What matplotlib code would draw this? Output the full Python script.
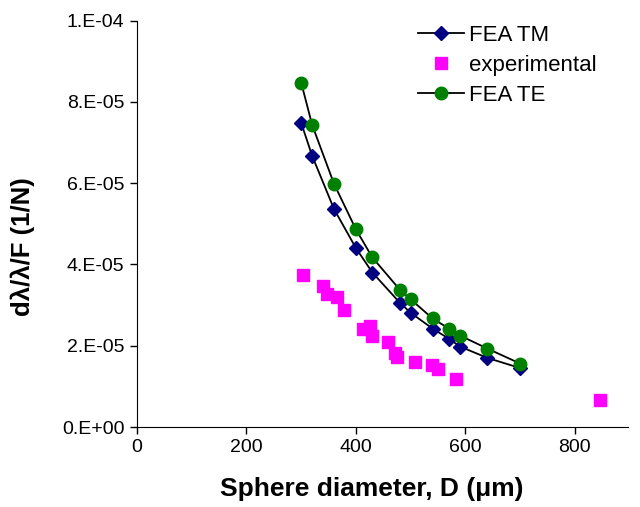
import matplotlib
matplotlib.use('Agg')
import matplotlib.pyplot as plt

plt.rcParams['font.family'] = ['Liberation Sans', 'DejaVu Sans']

# FEA TM (diamonds)
tm_d = [300, 320, 360, 400, 430, 480, 500, 540, 570, 590, 640, 700]
tm_y = [7.48e-5, 6.67e-5, 5.36e-5, 4.40e-5, 3.80e-5, 3.06e-5, 2.81e-5,
        2.42e-5, 2.17e-5, 1.98e-5, 1.70e-5, 1.45e-5]

# FEA TE (circles)
te_d = [300, 320, 360, 400, 430, 480, 500, 540, 570, 590, 640, 700]
te_y = [8.47e-5, 7.43e-5, 5.98e-5, 4.86e-5, 4.17e-5, 3.38e-5, 3.14e-5,
        2.67e-5, 2.42e-5, 2.25e-5, 1.93e-5, 1.56e-5]

# experimental (squares)
exp_d = [303, 340, 347, 365, 378, 413, 425, 430, 458, 471, 475, 508,
         539, 550, 583, 846]
exp_y = [3.73e-5, 3.46e-5, 3.26e-5, 3.19e-5, 2.89e-5, 2.42e-5, 2.49e-5,
         2.25e-5, 2.10e-5, 1.83e-5, 1.73e-5, 1.60e-5, 1.53e-5, 1.43e-5,
         1.19e-5, 0.67e-5]

yticks = [0, 2e-5, 4e-5, 6e-5, 8e-5, 1e-4]
ytick_labels = ['0.E+00', '2.E-05', '4.E-05', '6.E-05', '8.E-05', '1.E-04']
xticks = [0, 200, 400, 600, 800]

fig = plt.figure(figsize=(6.4, 5.07), dpi=100)
ax = fig.add_axes([137 / 640, 1 - 427 / 507, (628 - 137) / 640, (427 - 20.5) / 507])

ax.plot(tm_d, tm_y, color='black', lw=1.3, marker='D', ms=7,
        mfc='#000080', mec='#000080', label='FEA TM', zorder=3)
ax.plot(exp_d, exp_y, ls='none', marker='s', ms=8.5,
        mfc='#FF00FF', mec='#FF00FF', label='experimental', zorder=2)
ax.plot(te_d, te_y, color='black', lw=1.3, marker='o', ms=9,
        mfc='#008000', mec='#008000', label='FEA TE', zorder=4)

ax.set_xlim(0, 897)
ax.set_ylim(0, 1e-4)
ax.set_xticks(xticks)
ax.set_yticks(yticks)
ax.set_yticklabels(ytick_labels)
ax.tick_params(direction='out', length=5, width=1, labelsize=14, pad=4)

ax.spines['top'].set_visible(False)
ax.spines['right'].set_visible(False)

ax.set_xlabel('Sphere diameter, D (\u03bcm)', fontsize=19, fontweight='bold')
ax.set_ylabel('d\u03bb/\u03bb/F (1/N)', fontsize=18.5, fontweight='bold')
ax.xaxis.set_label_coords(0.478, -0.122)
ax.yaxis.set_label_coords(-0.207, 0.443)

ax.legend(loc='upper left', bbox_to_anchor=(0.635, 0.973), bbox_transform=fig.transFigure,
          frameon=False, fontsize=16, handlelength=2.1, handletextpad=0.22,
          labelspacing=0.4, borderpad=0, numpoints=1)

fig.savefig('out.png', dpi=100)
